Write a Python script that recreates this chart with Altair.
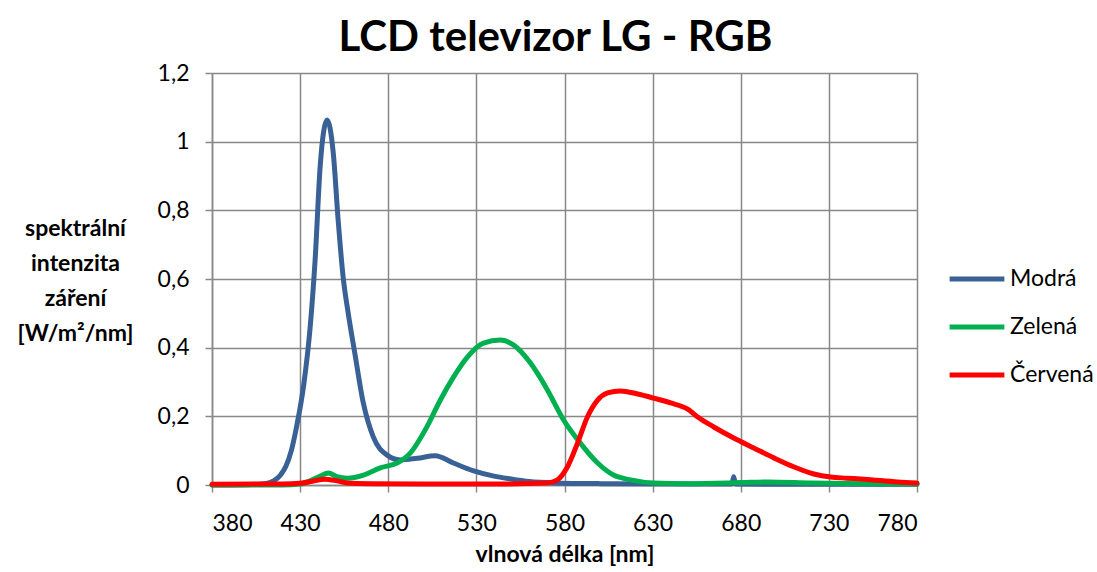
import altair as alt
import pandas as pd

# Modrá (blue)
blue_x = [380, 400, 410, 415, 419, 422, 425, 428, 432, 435.7, 438.5, 441.4, 445.3, 448.8, 451.6, 454.4, 457.3, 461,
          465.8, 471.5, 479.4, 486.8, 496.5, 506.7, 517, 528, 540, 549, 560, 574, 600, 650, 675, 676, 677, 700, 780]
blue_y = [0.0, 0.001, 0.004, 0.012, 0.03, 0.055, 0.1, 0.17, 0.29, 0.46, 0.655, 0.93, 1.063, 0.967, 0.77, 0.606,
          0.50, 0.385, 0.24, 0.14, 0.087, 0.073, 0.078, 0.085, 0.064, 0.042, 0.026, 0.018, 0.01, 0.006, 0.004, 0.003,
          0.003, 0.024, 0.003, 0.002, 0.002]

# Zelená (green)
green_x = [380, 420, 430, 435.7, 441.4, 446, 451, 456.7, 466, 475.5, 485, 492.5, 502, 509.5, 517, 525, 534, 543.6,
           551, 560.7, 570.3, 579.4, 589, 598.8, 607.8, 617.5, 630.6, 650, 680, 695, 720, 750, 780]
green_y = [0.0, 0.0, 0.003, 0.012, 0.026, 0.035, 0.024, 0.02, 0.029, 0.05, 0.064, 0.093, 0.17, 0.247, 0.314, 0.373,
           0.413, 0.422, 0.408, 0.355, 0.277, 0.19, 0.122, 0.064, 0.029, 0.015, 0.006, 0.004, 0.007, 0.009, 0.006,
           0.004, 0.003]

# Červená (red)
red_x = [380, 420, 430, 437, 444, 451, 456.7, 470, 500, 540, 570, 576, 581.7, 587.4, 593, 598.8, 604.4, 611.8, 621.5,
         630.6, 640.2, 649.9, 655.6, 664.7, 676, 687.4, 698.8, 710, 721.5, 731, 740, 749.9, 769, 780]
red_y = [0.002, 0.003, 0.005, 0.011, 0.017, 0.012, 0.006, 0.004, 0.003, 0.003, 0.006, 0.015, 0.053, 0.122, 0.198,
         0.247, 0.268, 0.274, 0.265, 0.253, 0.239, 0.221, 0.198, 0.169, 0.137, 0.108, 0.079, 0.053, 0.032, 0.023,
         0.02, 0.017, 0.009, 0.006]

series = ["Modrá", "Zelená", "Červená"]
colors = ["#3A6195", "#00B050", "#FF0000"]
x_ticks = [380, 430, 480, 530, 580, 630, 680, 730, 780]
y_ticks = [0, 0.2, 0.4, 0.6, 0.8, 1, 1.2]

rows = []
for i, (name, xs, ys) in enumerate(zip(series, [blue_x, green_x, red_x], [blue_y, green_y, red_y])):
    for x, y in zip(xs, ys):
        rows.append({"wl": x, "val": y, "serie": name, "ord": i})
df = pd.DataFrame(rows)

FONT = "Lato"
GRID = "#888888"
FS = 23

chart = alt.Chart(df).mark_line(strokeWidth=5, interpolate="monotone", strokeCap="round").encode(
    x=alt.X("wl:Q", scale=alt.Scale(domain=[380, 780], nice=False),
            axis=alt.Axis(values=x_ticks, title="vlnová délka [nm]", grid=True, gridColor=GRID, gridWidth=1.5,
                          domainColor=GRID, domainWidth=1.5, tickColor=GRID, tickWidth=1.5, tickSize=7,
                          labelFontSize=FS, labelColor="#000", labelPadding=20, labelFont=FONT,
                          titleFontSize=FS, titleFont=FONT, titleFontWeight="bold", titleColor="#000",
                          titlePadding=8)),
    y=alt.Y("val:Q", scale=alt.Scale(domain=[0, 1.2], nice=False),
            axis=alt.Axis(values=y_ticks, grid=True, gridColor=GRID, gridWidth=1.5,
                          domainColor=GRID, domainWidth=1.5, tickColor=GRID, tickWidth=1.5, tickSize=7,
                          labelFontSize=FS, labelColor="#000", labelPadding=16, labelFont=FONT,
                          labelExpr="replace(format(datum.value, '~g'), '.', ',')",
                          title=["spektrální", "intenzita", "záření", "[W/m²/nm]"],
                          titleAngle=0, titleAlign="center", titleBaseline="top",
                          titleX=-137, titleY=144, titleLineHeight=35,
                          titleFontSize=FS, titleFont=FONT, titleFontWeight="bold", titleColor="#000")),
    color=alt.Color("serie:N", scale=alt.Scale(domain=series, range=colors), sort=series,
                    legend=alt.Legend(title=None, orient="none", legendX=735, legendY=176,
                                      symbolType="stroke", symbolSize=3000, symbolStrokeWidth=5,
                                      labelFontSize=FS, labelFont=FONT, labelColor="#000",
                                      labelOffset=3, rowPadding=6)),
    order=alt.Order("ord:Q"),
    detail="serie:N",
).properties(
    width=705, height=412,
    title=alt.TitleParams("LCD televizor LG - RGB", fontSize=42, font=FONT, fontWeight="bold",
                          color="#000", anchor="middle", offset=2, dx=-9),
    padding={"left": 212, "top": 73, "right": 180, "bottom": 87},
    autosize=alt.AutoSizeParams(type="none"),
).configure_view(stroke=None).configure(background="white")

chart.save("out.html", embed_options={"renderer": "svg", "actions": False})
